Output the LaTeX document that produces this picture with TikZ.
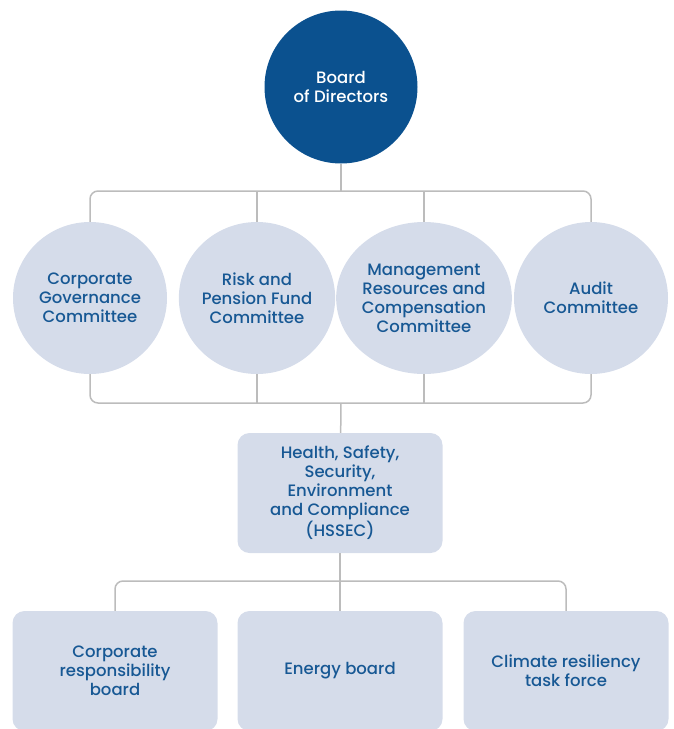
\documentclass[tikz,border=0pt]{standalone}
\usepackage{fontspec}
\setmainfont{Poppins Medium}
\usetikzlibrary{shapes.geometric}
\definecolor{boardblue}{HTML}{0B518F}
\definecolor{paleblue}{HTML}{D5DCEA}
\definecolor{textblue}{HTML}{175894}
\definecolor{linkgrey}{HTML}{BCBCBC}
\tikzset{
  committee/.style={shape=ellipse, fill=paleblue, text=textblue, minimum width=154, minimum height=152, inner sep=0pt, align=center, font=\fontsize{16.5}{19}\selectfont},
  panel/.style={shape=rectangle, rounded corners=12, fill=paleblue, text=textblue, minimum width=205, minimum height=120, inner sep=0pt, align=center, font=\fontsize{16.5}{19}\selectfont},
  link/.style={draw=linkgrey, line width=1.5pt},
}
\begin{document}
\begin{tikzpicture}[x=1pt, y=-1pt]
\useasboundingbox (0,0) rectangle (673,729);
\clip (0,0) rectangle (673,729);
\node[shape=circle, fill=boardblue, text=white, minimum size=153, inner sep=0pt, align=center, font=\fontsize{16.5}{19}\selectfont] (board) at (341, 87) {Board\\of Directors};
\node[committee] (cg) at (90, 298) {Corporate\\Governance\\Committee};
\node[committee] (rp) at (257, 298) {Risk and\\Pension Fund\\Committee};
\node[committee] (mr) at (424, 298) {Management\\Resources and\\Compensation\\Committee};
\node[committee] (ac) at (591, 298) {Audit\\Committee};
\node[panel] (hssec) at (340, 493) {Health, Safety,\\Security,\\Environment\\and Compliance\\(HSSEC)};
\node[panel] (crb) at (115, 671) {Corporate\\responsibility\\board};
\node[panel] (eb) at (340, 671) {Energy board};
\node[panel] (crt) at (566, 671) {Climate resiliency\\task force};
\coordinate (topbus) at (341, 191);
\coordinate (midbus) at (341, 403);
\coordinate (lowbus) at (340, 581);
\draw[link, rounded corners=8] (cg.north) |- (topbus) -| (ac.north);
\draw[link, rounded corners=8] (cg.south) |- (midbus) -| (ac.south);
\draw[link, rounded corners=8] (crb.north) |- (lowbus) -| (crt.north);
\path[link] (board) edge (topbus);
\path[link] (rp.north) edge (rp.north |- topbus);
\path[link] (mr.north) edge (mr.north |- topbus);
\path[link] (rp.south) edge (rp.south |- midbus);
\path[link] (mr.south) edge (mr.south |- midbus);
\path[link] (midbus) edge (hssec);
\path[link] (hssec) edge (eb);
\end{tikzpicture}
\end{document}
